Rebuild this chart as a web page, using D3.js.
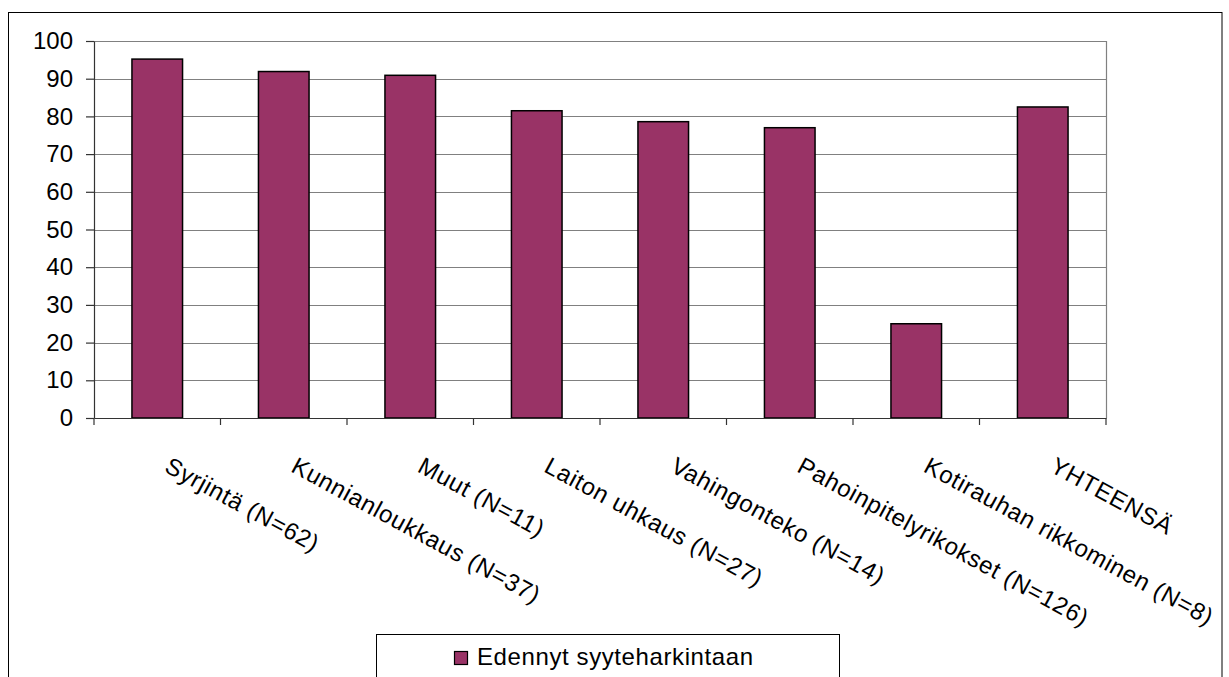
<!DOCTYPE html>
<html><head><meta charset="utf-8">
<script src="https://cdn.jsdelivr.net/npm/d3@7"></script>
<style>body{margin:0;background:#fff}svg{display:block;font-family:"Liberation Sans",Arial,sans-serif}</style>
</head><body>
<svg id="c" width="1229" height="677"></svg>
<script>
const categories = ["Syrjintä (N=62)","Kunnianloukkaus (N=37)","Muut (N=11)","Laiton uhkaus (N=27)","Vahingonteko (N=14)","Pahoinpitelyrikokset (N=126)","Kotirauhan rikkominen (N=8)","YHTEENSÄ"];
const values = [95.2, 91.9, 90.9, 81.5, 78.6, 77.0, 25.0, 82.5];
const yTicks = [0,10,20,30,40,50,60,70,80,90,100];
const seriesName = "Edennyt syyteharkintaan";

const FS = 24;
const svg = d3.select("#c");
const m = {left:94, right:1106, top:41, bottom:418};
const x = d3.scaleBand().domain(categories).range([m.left, m.right]).paddingInner(0.6).paddingOuter(0.3);
const y = d3.scaleLinear().domain([0,100]).range([m.bottom, m.top]);

// outer frame
svg.append("rect").attr("x",8.5).attr("y",12.5).attr("width",1213.5).attr("height",700)
  .attr("fill","none").attr("stroke","#000").attr("stroke-width",1);

// gridlines
svg.append("g").selectAll("line").data(yTicks.filter(d=>d>0)).join("line")
  .attr("x1",m.left).attr("x2",m.right).attr("y1",d=>Math.round(y(d))+0.5).attr("y2",d=>Math.round(y(d))+0.5)
  .attr("stroke","#808080").attr("stroke-width",1.2);
// right plot border
svg.append("line").attr("x1",m.right+0.5).attr("x2",m.right+0.5).attr("y1",m.top).attr("y2",m.bottom)
  .attr("stroke","#808080").attr("stroke-width",1.2);

// bars
svg.append("g").selectAll("rect").data(values).join("rect")
  .attr("x",(d,i)=>x(categories[i])).attr("width",x.bandwidth())
  .attr("y",d=>y(d)).attr("height",d=>y(0)-y(d))
  .attr("fill","#993366").attr("stroke","#000").attr("stroke-width",1.5);

// y axis
const ya = svg.append("g").attr("transform",`translate(${m.left},0)`)
  .call(d3.axisLeft(y).tickValues(yTicks).tickSize(8).tickPadding(13).tickSizeOuter(0));
ya.select(".domain").attr("stroke","#333").attr("stroke-width",1.2);
ya.selectAll(".tick line").attr("stroke","#333").attr("stroke-width",1.2);
ya.selectAll("text").attr("font-size",FS).attr("fill","#000").attr("font-family","Liberation Sans, Arial, sans-serif");

// x axis
const xa = svg.append("g").attr("transform",`translate(0,${m.bottom})`)
  .call(d3.axisBottom(x).tickSize(0).tickFormat(""));
xa.select(".domain").attr("stroke","#333").attr("stroke-width",1.2);
const bounds = d3.range(categories.length+1).map(i=>m.left + i*(m.right-m.left)/categories.length);
xa.selectAll("line.b").data(bounds).join("line").attr("class","b")
  .attr("x1",d=>d).attr("x2",d=>d).attr("y1",0).attr("y2",7).attr("stroke","#333").attr("stroke-width",1.2);

// category labels
svg.append("g").selectAll("text").data(categories).join("text")
  .attr("transform",d=>`translate(${x(d)+x.bandwidth()/2+6},${471}) rotate(28.5)`)
  .attr("text-anchor","start").attr("font-size",FS).attr("letter-spacing","0.7px").attr("fill","#000")
  .text(d=>d);

// legend
const lg = svg.append("g");
lg.append("rect").attr("x",376.5).attr("y",634.5).attr("width",463).attr("height",60)
  .attr("fill","#fff").attr("stroke","#000").attr("stroke-width",1);
lg.append("rect").attr("x",454.5).attr("y",651.5).attr("width",13).attr("height",13)
  .attr("fill","#993366").attr("stroke","#000").attr("stroke-width",1.2);
lg.append("text").attr("x",477).attr("y",665).attr("font-size",FS).attr("letter-spacing","0.6px").attr("fill","#000").text(seriesName);
</script>
</body></html>
